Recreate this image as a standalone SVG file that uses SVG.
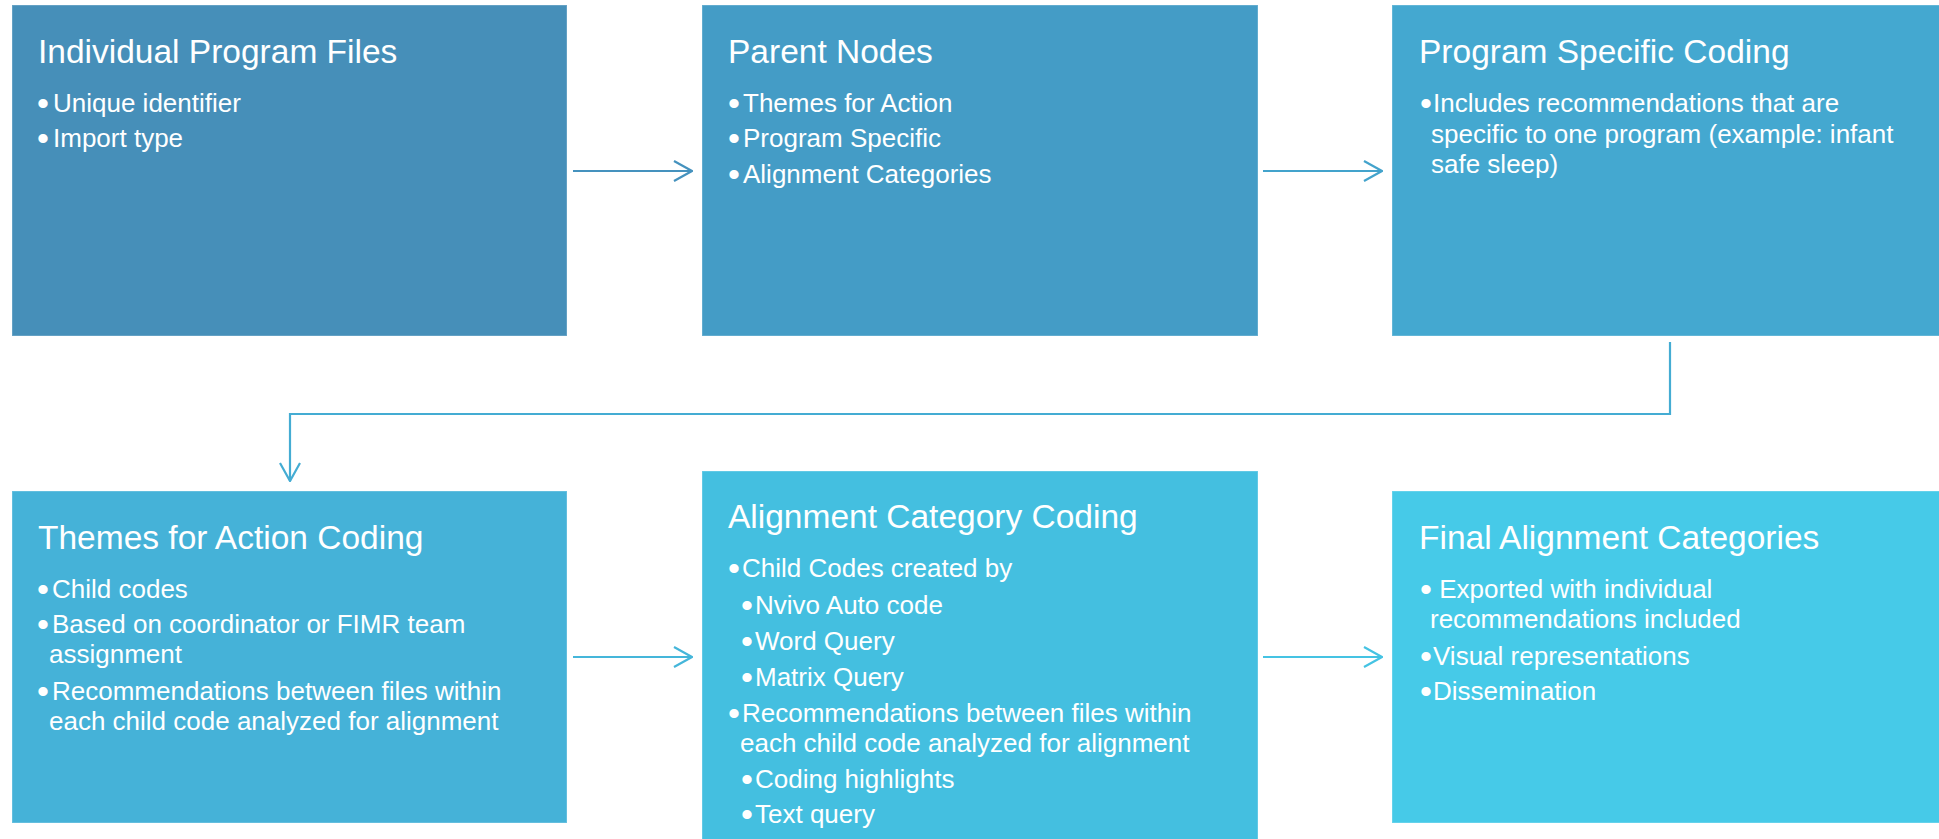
<svg xmlns="http://www.w3.org/2000/svg" width="1939" height="839" viewBox="0 0 1939 839">
<style>
.box{stroke:#ffffff;stroke-opacity:0.22;stroke-width:1.5}
.t{font-family:"Liberation Sans",Arial,sans-serif;font-size:33.5px;fill:#ffffff}
.b{font-family:"Liberation Sans",Arial,sans-serif;font-size:26px;fill:#ffffff}
.d{font-family:"Liberation Sans",Arial,sans-serif;font-size:34px;fill:#ffffff}
.c{fill:none;stroke-width:2.2}
</style>
<defs>
<marker id="m1" viewBox="0 0 20 24" refX="19" refY="12" markerWidth="20" markerHeight="24" markerUnits="userSpaceOnUse" orient="auto"><path d="M1,2 L19,12 L1,22" fill="none" stroke="#4592BE" stroke-width="2.2"/></marker>
<marker id="m2" viewBox="0 0 20 24" refX="19" refY="12" markerWidth="20" markerHeight="24" markerUnits="userSpaceOnUse" orient="auto"><path d="M1,2 L19,12 L1,22" fill="none" stroke="#43A3CC" stroke-width="2.2"/></marker>
<marker id="m3" viewBox="0 0 20 24" refX="19" refY="12" markerWidth="20" markerHeight="24" markerUnits="userSpaceOnUse" orient="auto"><path d="M1,2 L19,12 L1,22" fill="none" stroke="#45B6DA" stroke-width="2.2"/></marker>
<marker id="m4" viewBox="0 0 20 24" refX="19" refY="12" markerWidth="20" markerHeight="24" markerUnits="userSpaceOnUse" orient="auto"><path d="M1,2 L19,12 L1,22" fill="none" stroke="#45C3E3" stroke-width="2.2"/></marker>
<marker id="m5" viewBox="0 0 20 24" refX="19" refY="12" markerWidth="20" markerHeight="24" markerUnits="userSpaceOnUse" orient="auto"><path d="M1,2 L19,12 L1,22" fill="none" stroke="#44ACD3" stroke-width="2.2"/></marker>
</defs>
<rect width="1939" height="839" fill="#ffffff"/>

<g id="connectors">
<line class="c" x1="573" y1="171" x2="692" y2="171" stroke="#4592BE" marker-end="url(#m1)"/>
<line class="c" x1="1263" y1="171" x2="1382" y2="171" stroke="#43A3CC" marker-end="url(#m2)"/>
<polyline class="c" points="1670,342 1670,414 290,414 290,481" stroke="#44ACD3" marker-end="url(#m5)"/>
<line class="c" x1="573" y1="657" x2="692" y2="657" stroke="#45B6DA" marker-end="url(#m3)"/>
<line class="c" x1="1263" y1="657" x2="1382" y2="657" stroke="#45C3E3" marker-end="url(#m4)"/>
</g>

<g id="node-individual-program-files">
<rect class="box" x="12" y="5" width="555" height="331" fill="#468FB9"/>
<text class="t" x="38" y="63">Individual Program Files</text>
<text class="d" x="37" y="115">•</text><text class="b" x="53" y="112">Unique identifier</text>
<text class="d" x="37" y="150">•</text><text class="b" x="53" y="147">Import type</text>
</g>

<g id="node-parent-nodes">
<rect class="box" x="702" y="5" width="556" height="331" fill="#449CC6"/>
<text class="t" x="728" y="63">Parent Nodes</text>
<text class="d" x="728" y="115">•</text><text class="b" x="743" y="112">Themes for Action</text>
<text class="d" x="728" y="150">•</text><text class="b" x="743" y="147">Program Specific</text>
<text class="d" x="728" y="186">•</text><text class="b" x="743" y="183">Alignment Categories</text>
</g>

<g id="node-program-specific-coding">
<rect class="box" x="1392" y="5" width="548" height="331" fill="#44A8D0"/>
<text class="t" x="1419" y="63">Program Specific Coding</text>
<text class="d" x="1420" y="115">•</text><text class="b" x="1433" y="112">Includes recommendations that are</text>
<text class="b" x="1431" y="143">specific to one program (example: infant</text>
<text class="b" x="1431" y="173">safe sleep)</text>
</g>

<g id="node-themes-for-action-coding">
<rect class="box" x="12" y="491" width="555" height="332" fill="#45B2D8"/>
<text class="t" x="38" y="549">Themes for Action Coding</text>
<text class="d" x="37" y="601">•</text><text class="b" x="52" y="598">Child codes</text>
<text class="d" x="37" y="636">•</text><text class="b" x="52" y="633">Based on coordinator or FIMR team</text>
<text class="b" x="49" y="663">assignment</text>
<text class="d" x="37" y="703">•</text><text class="b" x="52" y="700">Recommendations between files within</text>
<text class="b" x="49" y="730">each child code analyzed for alignment</text>
</g>

<g id="node-alignment-category-coding">
<rect class="box" x="702" y="471" width="556" height="369" fill="#44BFE0"/>
<text class="t" x="728" y="528">Alignment Category Coding</text>
<text class="d" x="728" y="580">•</text><text class="b" x="742" y="577">Child Codes created by</text>
<text class="d" x="741" y="617">•</text><text class="b" x="755" y="614">Nvivo Auto code</text>
<text class="d" x="741" y="653">•</text><text class="b" x="755" y="650">Word Query</text>
<text class="d" x="741" y="689">•</text><text class="b" x="755" y="686">Matrix Query</text>
<text class="d" x="728" y="725">•</text><text class="b" x="742" y="722">Recommendations between files within</text>
<text class="b" x="740" y="752">each child code analyzed for alignment</text>
<text class="d" x="741" y="791">•</text><text class="b" x="755" y="788">Coding highlights</text>
<text class="d" x="741" y="826">•</text><text class="b" x="755" y="823">Text query</text>
</g>

<g id="node-final-alignment-categories">
<rect class="box" x="1392" y="491" width="548" height="332" fill="#46CAE8"/>
<text class="t" x="1419" y="549">Final Alignment Categories</text>
<text class="d" x="1420" y="601">•</text><text class="b" x="1432" y="598" xml:space="preserve" style="white-space:pre"> Exported with individual</text>
<text class="b" x="1430" y="628">recommendations included</text>
<text class="d" x="1420" y="668">•</text><text class="b" x="1433" y="665">Visual representations</text>
<text class="d" x="1420" y="703">•</text><text class="b" x="1433" y="700">Dissemination</text>
</g>
</svg>
